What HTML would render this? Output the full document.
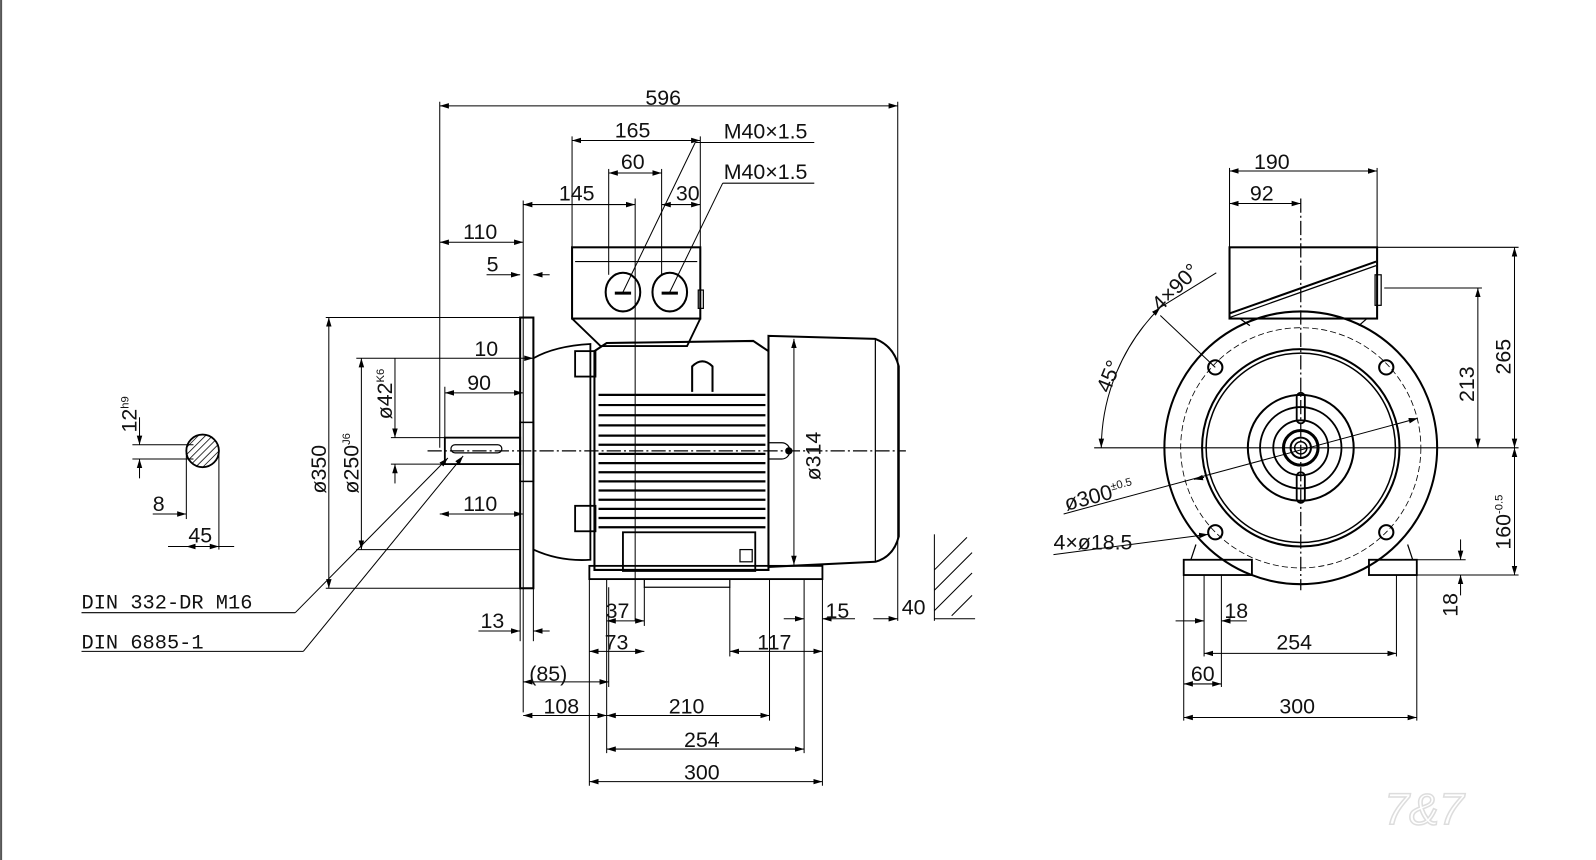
<!DOCTYPE html>
<html><head><meta charset="utf-8"><style>
html,body{margin:0;padding:0;background:#fff;}
svg{display:block}
text{font-family:"Liberation Sans",sans-serif;font-size:21px;fill:#111;}
</style></head><body>
<svg width="1596" height="860" viewBox="0 0 1568 845" xmlns="http://www.w3.org/2000/svg">
<defs>
<marker id="a" viewBox="0 0 10 10" refX="10" refY="5" markerWidth="9" markerHeight="9" orient="auto-start-reverse" markerUnits="userSpaceOnUse"><path d="M0,2 L10,5 L0,8z" fill="#000"/></marker>
<pattern id="h" width="5" height="5" patternUnits="userSpaceOnUse" patternTransform="rotate(45)"><line x1="0" y1="0" x2="0" y2="5" stroke="#000" stroke-width="1.5"/></pattern>
</defs>
<rect width="1568" height="845" fill="#fff"/>
<line x1="1" y1="0" x2="1" y2="845" stroke="#555" stroke-width="2"/>
<g stroke="#000" fill="none" stroke-width="1.2">
<line x1="420" y1="443" x2="890" y2="443" stroke-dasharray="14 3 2 3"/>
<line x1="624" y1="195" x2="624" y2="610" stroke-width="1"/>
<line x1="1075" y1="440" x2="1410" y2="440"/>
<line x1="1278" y1="195" x2="1278" y2="580" stroke-dasharray="14 3 2 3"/>
<rect x="511" y="312" width="13" height="266" stroke-width="2"/>
<rect x="511" y="415" width="13" height="58" stroke-width="1.5"/>
<rect x="437" y="430" width="74" height="26" stroke-width="1.8"/>
<rect x="443" y="437" width="50" height="8" rx="4"/>
<path d="M524,352 Q545,340 580,338 L580,550 Q550,552 524,540" stroke-width="1.8"/>
<rect x="562" y="243" width="126" height="70" stroke-width="2"/>
<line x1="565" y1="257" x2="685" y2="257"/>
<path d="M562,313 L590,340 L675,340 L688,313" stroke-width="1.8"/>
<ellipse cx="612" cy="287" rx="17" ry="19" stroke-width="2"/>
<ellipse cx="658" cy="287" rx="17" ry="19" stroke-width="2"/>
<line x1="604" y1="288" x2="620" y2="288" stroke-width="3"/>
<line x1="650" y1="288" x2="666" y2="288" stroke-width="3"/>
<rect x="686" y="285" width="5" height="18"/>
<path d="M584,345 L596,337 L740,335 L755,345 L755,560 L584,560 Z" stroke-width="2"/>
<g stroke-width="2.2">
<line x1="588" y1="388" x2="752" y2="388"/><line x1="588" y1="398" x2="752" y2="398"/>
<line x1="588" y1="408" x2="752" y2="408"/><line x1="588" y1="418" x2="752" y2="418"/>
<line x1="588" y1="428" x2="752" y2="428"/><line x1="588" y1="437" x2="752" y2="437"/>
<line x1="588" y1="446" x2="752" y2="446"/><line x1="588" y1="455" x2="752" y2="455"/>
<line x1="588" y1="464" x2="752" y2="464"/><line x1="588" y1="473" x2="752" y2="473"/>
<line x1="588" y1="482" x2="752" y2="482"/><line x1="588" y1="491" x2="752" y2="491"/>
<line x1="588" y1="500" x2="752" y2="500"/><line x1="588" y1="509" x2="752" y2="509"/>
<line x1="588" y1="518" x2="752" y2="518"/>
</g>
<path d="M680,385 L680,360 Q690,350 700,360 L700,385" stroke-width="2"/>
<rect x="565" y="345" width="20" height="25" stroke-width="1.8"/>
<rect x="565" y="497" width="20" height="25" stroke-width="1.8"/>
<rect x="612" y="523" width="130" height="38" stroke-width="1.8"/>
<rect x="727" y="540" width="12" height="12"/>
<path d="M755,330 L860,333 Q878,340 883,360 L883,527 Q878,547 860,552 L755,557 Z" stroke-width="2"/>
<line x1="860" y1="333" x2="860" y2="552"/>
<path d="M755,435 L768,435 A8,8 0 0 1 768,451 L755,451"/>
<circle cx="775" cy="443" r="3" fill="#000"/>
<rect x="579" y="556" width="229" height="13" stroke-width="1.8"/>
<rect x="633" y="569" width="84" height="8"/>
<g stroke-width="1">
<line x1="432" y1="100" x2="432" y2="440"/><line x1="882" y1="100" x2="882" y2="610"/>
<line x1="432" y1="104" x2="882" y2="104" marker-start="url(#a)" marker-end="url(#a)"/>
<line x1="562" y1="134" x2="562" y2="243"/><line x1="688" y1="134" x2="688" y2="243"/>
<line x1="562" y1="138" x2="688" y2="138" marker-start="url(#a)" marker-end="url(#a)"/>
<line x1="598" y1="166" x2="598" y2="270"/><line x1="650" y1="166" x2="650" y2="270"/>
<line x1="598" y1="170" x2="650" y2="170" marker-start="url(#a)" marker-end="url(#a)"/>
<line x1="514" y1="197" x2="514" y2="700"/>
<line x1="514" y1="201" x2="624" y2="201" marker-start="url(#a)" marker-end="url(#a)"/>
<line x1="650" y1="201" x2="688" y2="201" marker-start="url(#a)" marker-end="url(#a)"/>
<line x1="432" y1="238" x2="514" y2="238" marker-start="url(#a)" marker-end="url(#a)"/>
<line x1="478" y1="270" x2="511" y2="270" marker-end="url(#a)"/><line x1="540" y1="270" x2="524" y2="270" marker-end="url(#a)"/>
<line x1="390" y1="352" x2="524" y2="352" marker-end="url(#a)"/>
<line x1="437" y1="386" x2="514" y2="386" marker-start="url(#a)" marker-end="url(#a)"/>
<line x1="437" y1="380" x2="437" y2="430"/>
<line x1="432" y1="505" x2="514" y2="505" marker-start="url(#a)" marker-end="url(#a)"/>
<line x1="320" y1="312" x2="511" y2="312"/><line x1="320" y1="578" x2="511" y2="578"/>
<line x1="323" y1="312" x2="323" y2="578" marker-start="url(#a)" marker-end="url(#a)"/>
<line x1="350" y1="352" x2="390" y2="352"/><line x1="350" y1="540" x2="511" y2="540"/>
<line x1="355" y1="352" x2="355" y2="540" marker-start="url(#a)" marker-end="url(#a)"/>
<line x1="384" y1="430" x2="437" y2="430"/><line x1="384" y1="456" x2="437" y2="456"/>
<line x1="388" y1="352" x2="388" y2="430" marker-end="url(#a)"/><line x1="388" y1="475" x2="388" y2="456" marker-end="url(#a)"/>
<line x1="780" y1="333" x2="780" y2="555" marker-start="url(#a)" marker-end="url(#a)"/>
<line x1="524" y1="578" x2="524" y2="630"/><line x1="511" y1="578" x2="511" y2="630"/>
<line x1="470" y1="620" x2="511" y2="620" marker-end="url(#a)"/><line x1="540" y1="620" x2="524" y2="620" marker-end="url(#a)"/>
<line x1="579" y1="569" x2="579" y2="772"/><line x1="808" y1="569" x2="808" y2="772"/>
<line x1="596" y1="569" x2="596" y2="740"/><line x1="790" y1="569" x2="790" y2="740"/>
<line x1="756" y1="569" x2="756" y2="708"/><line x1="717" y1="577" x2="717" y2="645"/>
<line x1="633" y1="577" x2="633" y2="615"/>
<line x1="596" y1="610" x2="633" y2="610" marker-start="url(#a)" marker-end="url(#a)"/>
<line x1="579" y1="640" x2="633" y2="640" marker-start="url(#a)" marker-end="url(#a)"/>
<line x1="717" y1="640" x2="808" y2="640" marker-start="url(#a)" marker-end="url(#a)"/>
<line x1="770" y1="608" x2="790" y2="608" marker-end="url(#a)"/><line x1="840" y1="608" x2="808" y2="608" marker-end="url(#a)"/>
<line x1="858" y1="608" x2="882" y2="608" marker-end="url(#a)"/><line x1="958" y1="608" x2="918" y2="608"/>
<line x1="918" y1="525" x2="918" y2="610"/>
<line x1="918" y1="560" x2="950" y2="528"/><line x1="918" y1="580" x2="955" y2="543"/><line x1="918" y1="600" x2="955" y2="563"/><line x1="935" y1="605" x2="955" y2="585"/>
<line x1="514" y1="670" x2="598" y2="670" marker-start="url(#a)" marker-end="url(#a)"/>
<line x1="598" y1="577" x2="598" y2="675"/>
<line x1="514" y1="703" x2="596" y2="703" marker-start="url(#a)" marker-end="url(#a)"/>
<line x1="596" y1="703" x2="756" y2="703" marker-start="url(#a)" marker-end="url(#a)"/>
<line x1="596" y1="736" x2="790" y2="736" marker-start="url(#a)" marker-end="url(#a)"/>
<line x1="579" y1="768" x2="808" y2="768" marker-start="url(#a)" marker-end="url(#a)"/>
<line x1="612" y1="287" x2="683" y2="140" /><line x1="683" y1="140" x2="800" y2="140"/>
<line x1="658" y1="287" x2="710" y2="180"/><line x1="710" y1="180" x2="800" y2="180"/>
<line x1="80" y1="602" x2="290" y2="602"/><line x1="290" y1="602" x2="440" y2="450" marker-end="url(#a)"/>
<line x1="80" y1="640" x2="298" y2="640"/><line x1="298" y1="640" x2="455" y2="448" marker-end="url(#a)"/>
</g>
<circle cx="199" cy="443" r="16" fill="url(#h)" stroke-width="1.8"/>
<g stroke-width="1">
<line x1="130" y1="437" x2="190" y2="437"/><line x1="130" y1="451" x2="190" y2="451"/>
<line x1="137" y1="410" x2="137" y2="437" marker-end="url(#a)"/><line x1="137" y1="470" x2="137" y2="451" marker-end="url(#a)"/>
<line x1="183" y1="445" x2="183" y2="510"/><line x1="215" y1="445" x2="215" y2="540"/>
<line x1="150" y1="505" x2="183" y2="505" marker-end="url(#a)"/>
<line x1="165" y1="537" x2="230" y2="537"/>
<line x1="183" y1="537" x2="215" y2="537" marker-start="url(#a)" marker-end="url(#a)"/>
</g>
<circle cx="1278" cy="440" r="134" stroke-width="2"/>
<circle cx="1278" cy="440" r="118" stroke-dasharray="6 3" stroke-width="0.8"/>
<circle cx="1278" cy="440" r="97" stroke-width="2"/>
<circle cx="1278" cy="440" r="93" stroke-width="1.5"/>
<circle cx="1278" cy="440" r="52" stroke-width="2"/>
<circle cx="1278" cy="440" r="40" stroke-width="1.8"/>
<circle cx="1278" cy="440" r="27" stroke-width="1.8"/>
<circle cx="1278" cy="440" r="17" stroke-width="3"/>
<circle cx="1278" cy="440" r="10" stroke-width="2"/>
<circle cx="1278" cy="440" r="6" stroke-width="1.5"/>
<rect x="1274" y="386" width="8" height="30" rx="4" stroke-width="1.8"/>
<rect x="1274" y="464" width="8" height="30" rx="4" stroke-width="1.8"/>
<circle cx="1194" cy="361" r="7" stroke-width="2"/><circle cx="1362" cy="361" r="7" stroke-width="2"/>
<circle cx="1194" cy="523" r="7" stroke-width="2"/><circle cx="1362" cy="523" r="7" stroke-width="2"/>
<rect x="1208" y="243" width="145" height="70" stroke-width="2"/>
<line x1="1208" y1="308" x2="1352" y2="257" stroke-width="2"/><line x1="1208" y1="312" x2="1352" y2="261" stroke-width="1.2"/>
<rect x="1351" y="270" width="6" height="30"/>
<path d="M1218,313 L1228,320 M1343,313 L1335,320"/>
<rect x="1163" y="550" width="67" height="15" stroke-width="1.8"/>
<rect x="1345" y="550" width="47" height="15" stroke-width="1.8"/>
<path d="M1170,550 L1175,535 M1388,550 L1383,535"/>
<g stroke-width="1">
<line x1="1208" y1="165" x2="1208" y2="243"/><line x1="1353" y1="165" x2="1353" y2="243"/>
<line x1="1208" y1="168" x2="1353" y2="168" marker-start="url(#a)" marker-end="url(#a)"/>
<line x1="1208" y1="200" x2="1278" y2="200" marker-start="url(#a)" marker-end="url(#a)"/>
<line x1="1353" y1="243" x2="1492" y2="243"/><line x1="1360" y1="283" x2="1456" y2="283"/>
<line x1="1410" y1="440" x2="1492" y2="440"/><line x1="1392" y1="565" x2="1492" y2="565"/>
<line x1="1392" y1="550" x2="1440" y2="550"/>
<line x1="1488" y1="243" x2="1488" y2="440" marker-start="url(#a)" marker-end="url(#a)"/>
<line x1="1452" y1="283" x2="1452" y2="440" marker-start="url(#a)" marker-end="url(#a)"/>
<line x1="1488" y1="440" x2="1488" y2="565" marker-start="url(#a)" marker-end="url(#a)"/>
<line x1="1435" y1="530" x2="1435" y2="550" marker-end="url(#a)"/><line x1="1435" y1="585" x2="1435" y2="565" marker-end="url(#a)"/>
<line x1="1163" y1="565" x2="1163" y2="708"/><line x1="1392" y1="565" x2="1392" y2="708"/>
<line x1="1183" y1="565" x2="1183" y2="645"/><line x1="1372" y1="565" x2="1372" y2="645"/>
<line x1="1200" y1="565" x2="1200" y2="675"/>
<line x1="1163" y1="705" x2="1392" y2="705" marker-start="url(#a)" marker-end="url(#a)"/>
<line x1="1183" y1="642" x2="1372" y2="642" marker-start="url(#a)" marker-end="url(#a)"/>
<line x1="1163" y1="672" x2="1200" y2="672" marker-start="url(#a)" marker-end="url(#a)"/>
<line x1="1155" y1="610" x2="1183" y2="610" marker-end="url(#a)"/><line x1="1225" y1="610" x2="1200" y2="610" marker-end="url(#a)"/>
<line x1="1045" y1="505" x2="1393" y2="411" marker-end="url(#a)"/>
<line x1="1183" y1="469" x2="1173" y2="471" marker-end="url(#a)"/>
<line x1="1035" y1="545" x2="1187" y2="525" marker-end="url(#a)"/>
<line x1="1194" y1="361" x2="1140" y2="310"/>
<path d="M1082,440 A196,196 0 0 1 1140,302" marker-start="url(#a)" marker-end="url(#a)"/>
<line x1="1140" y1="302" x2="1195" y2="268"/>
</g>
</g>
<text x="634" y="103">596</text>
<text x="604" y="135">165</text>
<text x="610" y="166">60</text>
<text x="549" y="197">145</text>
<text x="664" y="197">30</text>
<text x="711" y="136">M40×1.5</text>
<text x="711" y="176">M40×1.5</text>
<text x="455" y="235">110</text>
<text x="478" y="267">5</text>
<text x="466" y="350">10</text>
<text x="459" y="383">90</text>
<text x="455" y="502">110</text>
<text x="472" y="617">13</text>
<text x="595" y="607">37</text>
<text x="594" y="638">73</text>
<text x="744" y="638">117</text>
<text x="811" y="607">15</text>
<text x="886" y="604">40</text>
<text x="520" y="669">(85)</text>
<text x="534" y="701">108</text>
<text x="657" y="701">210</text>
<text x="672" y="734">254</text>
<text x="672" y="766">300</text>
<text x="80" y="598" style="font-family:'Liberation Mono',monospace;font-size:20px">DIN 332-DR M16</text>
<text x="80" y="637" style="font-family:'Liberation Mono',monospace;font-size:20px">DIN 6885-1</text>
<text transform="translate(320,485) rotate(-90)">ø350</text>
<text transform="translate(352,485) rotate(-90)">ø250<tspan font-size="11" dy="-8">J6</tspan></text>
<text transform="translate(385,412) rotate(-90)">ø42<tspan font-size="11" dy="-8">K6</tspan></text>
<text transform="translate(806,472) rotate(-90)">ø314</text>
<text transform="translate(134,425) rotate(-90)">12<tspan font-size="11" dy="-8">h9</tspan></text>
<text x="150" y="502">8</text>
<text x="185" y="533">45</text>
<text x="1232" y="166">190</text>
<text x="1228" y="197">92</text>
<text transform="translate(1484,368) rotate(-90)">265</text>
<text transform="translate(1448,395) rotate(-90)">213</text>
<text transform="translate(1484,540) rotate(-90)">160<tspan font-size="11" dy="-8">-0.5</tspan></text>
<text transform="translate(1432,606) rotate(-90)">18</text>
<text x="1203" y="607">18</text>
<text x="1254" y="638">254</text>
<text x="1170" y="669">60</text>
<text x="1257" y="701">300</text>
<text transform="translate(1048,502) rotate(-15)">ø300<tspan font-size="11" dy="-8">±0.5</tspan></text>
<text x="1035" y="540">4×ø18.5</text>
<text transform="translate(1090,387) rotate(-68)">45°</text>
<text transform="translate(1140,307) rotate(-45)">4×90°</text>
<text x="1360" y="810" style="font-size:44px;font-style:italic;fill:none;stroke:#ddd;stroke-width:1.5">7&amp;7</text>
</svg>
</body></html>
